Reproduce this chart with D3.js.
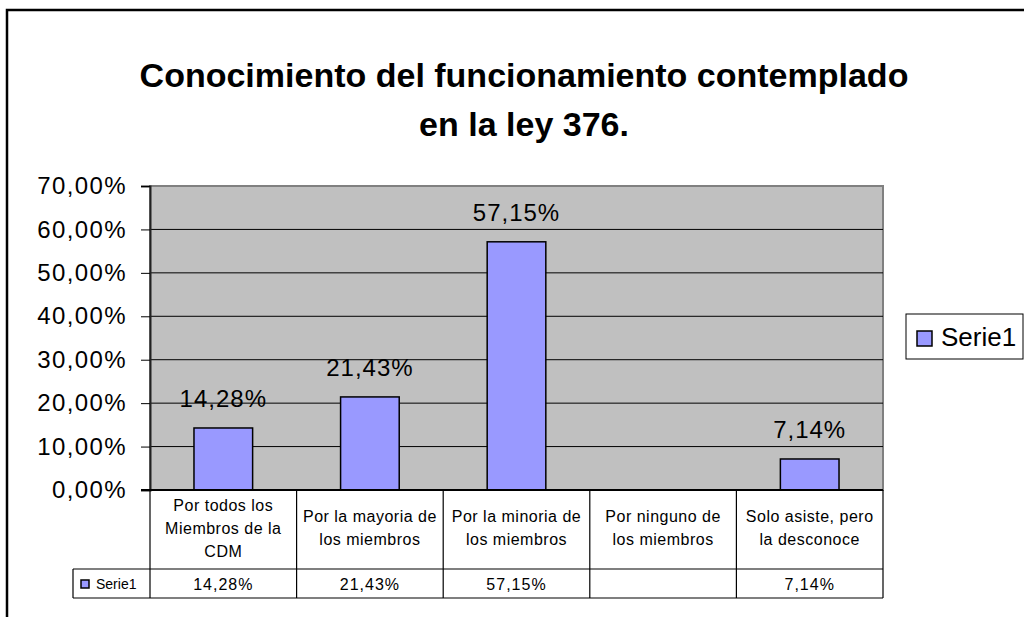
<!DOCTYPE html>
<html><head><meta charset="utf-8">
<script src="https://cdn.jsdelivr.net/npm/d3@7"></script>
<style>body{margin:0;background:#fff;} svg{display:block;font-family:Arial,"Liberation Sans",sans-serif;}</style>
</head><body>
<svg id="c" width="1024" height="617"></svg>
<script>
const titleLines = ["Conocimiento del funcionamiento contemplado", "en la ley 376."];
const categories = ["Por todos los Miembros de la CDM", "Por la mayoria de los miembros", "Por la minoria de los miembros", "Por ninguno de los miembros", "Solo asiste, pero la desconoce"];
const categoryLines = [["Por todos los", "Miembros de la", "CDM"], ["Por la mayoria de", "los miembros"], ["Por la minoria de", "los miembros"], ["Por ninguno de", "los miembros"], ["Solo asiste, pero", "la desconoce"]];
const seriesName = "Serie1";
const values = [14.28, 21.43, 57.15, null, 7.14];
const yTicks = [0, 10, 20, 30, 40, 50, 60, 70];

(function () {
const svg = d3.select("#c");
const fmt = v => d3.format(".2f")(v).replace(".", ",") + "%";

const pLeft = 150, pRight = 883, pTop = 186, pBottom = 490;
const x = d3.scaleBand().domain(categories).range([pLeft, pRight]).paddingInner(0.6).paddingOuter(0.3);
const xc = d3.scaleBand().domain(categories).range([pLeft, pRight]).padding(0);
const y = d3.scaleLinear().domain([0, 70]).range([pBottom, pTop]);

// outer chart border
svg.append("path").attr("d", `M1030,10 H7 V620`).attr("fill", "none").attr("stroke", "#000").attr("stroke-width", 2.5);

// title
const title = svg.append("text").attr("text-anchor", "middle").attr("font-weight", "bold").attr("font-size", 34).attr("fill", "#000");
titleLines.forEach((t, i) => title.append("tspan").attr("x", 524).attr("y", 87 + i * 49).text(t));

// plot background
svg.append("rect").attr("x", pLeft).attr("y", pTop).attr("width", pRight - pLeft).attr("height", pBottom - pTop).attr("fill", "#C0C0C0").attr("stroke", "#808080").attr("stroke-width", 2);

// gridlines
svg.append("g").selectAll("line").data(yTicks.filter(d => d > 0 && d < 70)).join("line")
  .attr("x1", pLeft).attr("x2", pRight).attr("y1", d => y(d)).attr("y2", d => y(d)).attr("stroke", "#000").attr("stroke-width", 1);

// y axis
const yAxis = svg.append("g").attr("transform", `translate(${pLeft},0)`)
  .call(d3.axisLeft(y).tickValues(yTicks).tickFormat(d => fmt(d)).tickSize(9).tickPadding(14));
yAxis.select(".domain").attr("stroke", "#222").attr("stroke-width", 2);
yAxis.selectAll(".tick line").attr("stroke", "#000").attr("stroke-width", 1);
yAxis.selectAll(".tick text").attr("font-size", 24).attr("font-family", "Arial,'Liberation Sans',sans-serif").attr("fill", "#000").attr("letter-spacing", 1.4);

// bars
const data = categories.map((c, i) => ({c, v: values[i]}));
svg.append("g").selectAll("rect").data(data.filter(d => d.v != null)).join("rect")
  .attr("x", d => x(d.c)).attr("width", x.bandwidth())
  .attr("y", d => y(d.v)).attr("height", d => y(0) - y(d.v))
  .attr("fill", "#9999FF").attr("stroke", "#000").attr("stroke-width", 1.5);

// value labels
svg.append("g").selectAll("text").data(data.filter(d => d.v != null)).join("text")
  .attr("x", d => x(d.c) + x.bandwidth() / 2).attr("y", d => y(d.v) - 21)
  .attr("text-anchor", "middle").attr("font-size", 24).attr("letter-spacing", 1).attr("fill", "#000")
  .text(d => fmt(d.v));

// data table
const row1 = 569, row2 = 598, tableLeft = 73;
const tg = svg.append("g").attr("stroke", "#000").attr("stroke-width", 1.2);
tg.append("line").attr("x1", pLeft - 9).attr("x2", pRight).attr("y1", pBottom).attr("y2", pBottom).attr("stroke-width", 2);
tg.append("line").attr("x1", tableLeft).attr("x2", pRight).attr("y1", row1).attr("y2", row1);
tg.append("line").attr("x1", tableLeft).attr("x2", pRight).attr("y1", row2).attr("y2", row2);
tg.append("line").attr("x1", tableLeft).attr("x2", tableLeft).attr("y1", row1).attr("y2", row2);
const bounds = categories.map(c => xc(c)).concat([pRight]);
tg.selectAll(".v").data(bounds).join("line").attr("class", "v")
  .attr("x1", d => d).attr("x2", d => d).attr("y1", pBottom).attr("y2", row2);

// category labels
const cl = svg.append("g");
categories.forEach((c, i) => {
  const lines = categoryLines[i];
  const cx = xc(c) + xc.bandwidth() / 2;
  const mid = (pBottom + row1) / 2 - 2;
  const lh = 23;
  lines.forEach((t, j) => {
    cl.append("text").attr("x", cx).attr("y", mid + (j - (lines.length - 1) / 2) * lh + 6)
      .attr("text-anchor", "middle").attr("font-size", 16).attr("letter-spacing", 0.5).attr("fill", "#000").text(t);
  });
});

// value row
svg.append("g").selectAll("text").data(data.filter(d => d.v != null)).join("text")
  .attr("x", d => xc(d.c) + xc.bandwidth() / 2).attr("y", (row1 + row2) / 2 + 6)
  .attr("text-anchor", "middle").attr("font-size", 16).attr("letter-spacing", 1).attr("fill", "#000")
  .text(d => fmt(d.v));

// legend key in table
svg.append("rect").attr("x", 81).attr("y", 580).attr("width", 8).attr("height", 8).attr("fill", "#9999FF").attr("stroke", "#000").attr("stroke-width", 1.5);
svg.append("text").attr("x", 96).attr("y", 589).attr("font-size", 14).attr("fill", "#000").text(seriesName);

// legend
svg.append("rect").attr("x", 906).attr("y", 314).attr("width", 117).attr("height", 45).attr("fill", "#fff").attr("stroke", "#000").attr("stroke-width", 1);
svg.append("rect").attr("x", 917).attr("y", 331).attr("width", 15).attr("height", 15).attr("fill", "#9999FF").attr("stroke", "#000").attr("stroke-width", 1.5);
svg.append("text").attr("x", 941).attr("y", 346).attr("font-size", 26).attr("fill", "#000").text(seriesName);
})();
</script>
</body></html>
